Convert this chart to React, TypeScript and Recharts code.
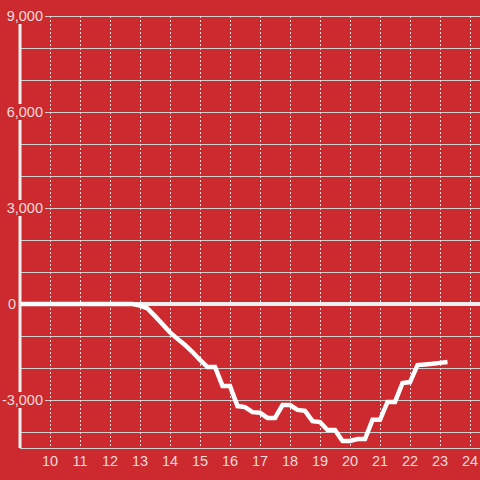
import { LineChart, Line, XAxis, YAxis, CartesianGrid, ReferenceLine } from "recharts";

const hours = [
  9, 9.25, 9.5, 9.75, 10, 10.25, 10.5, 10.75, 11, 11.25, 11.5, 11.75,
  12, 12.25, 12.5, 12.75, 13, 13.25, 13.5, 13.75, 14, 14.25, 14.5, 14.75,
  15, 15.25, 15.5, 15.75, 16, 16.25, 16.5, 16.75, 17, 17.25, 17.5, 17.75,
  18, 18.25, 18.5, 18.75, 19, 19.25, 19.5, 19.75, 20, 20.25, 20.5, 20.75,
  21, 21.25, 21.5, 21.75, 22, 22.25, 22.5, 22.75, 23, 23.25,
];

const values = [
  0, 0, 0, 0, 0, 0, 0, 0, 0, 0, 0, 0,
  0, 0, 0, 0, -50, -140, -380, -630, -890, -1090, -1280, -1500,
  -1750, -1970, -1970, -2560, -2560, -3190, -3220, -3380, -3400, -3560, -3560, -3160,
  -3160, -3310, -3340, -3660, -3690, -3940, -3940, -4280, -4280, -4220, -4220, -3620,
  -3620, -3060, -3060, -2470, -2440, -1910, -1890, -1870, -1840, -1810,
];

const xTicks = [10, 11, 12, 13, 14, 15, 16, 17, 18, 19, 20, 21, 22, 23, 24];
const yTicks = [-4000, -3000, -2000, -1000, 0, 1000, 2000, 3000, 4000, 5000, 6000, 7000, 8000, 9000];
const yLabelStep = 3000;

const data = hours.map((h, i) => ({ h, v: values[i] }));

const BG = "#cc2a2f";
const TEXT = "#f4dcdc";
const FONT = "'Liberation Sans', Arial, sans-serif";
const FS = 14.5;

function fmt(v: number) {
  return v.toLocaleString("en-US");
}

// y labels sit on a red box so they hide the axis / grid behind them
function YTick(props: any) {
  const { y, payload } = props;
  const v = payload.value;
  if (v % yLabelStep !== 0) return <g />;
  const label = fmt(v);
  if (v === 0) {
    return (
      <text x={8} y={y} dy="0.36em" fill={TEXT} fontSize={FS} fontFamily={FONT} textAnchor="start">
        {label}
      </text>
    );
  }
  let w = 0;
  for (const c of label) w += c === "," ? 0.278 : c === "-" ? 0.333 : 0.556;
  w *= FS;
  const right = 43;
  return (
    <g>
      <rect x={right - w - 2} y={y - 8} width={w + 4} height={16} fill={BG} />
      <text x={right} y={y} dy="0.36em" fill={TEXT} fontSize={FS} fontFamily={FONT} textAnchor="end">
        {label}
      </text>
    </g>
  );
}

export default function App() {
  return (
    <div style={{ position: "absolute", left: 0, top: 0, width: 480, height: 480, background: BG }}>
      <LineChart width={480} height={480} data={data} margin={{ top: 16, right: 0, left: 0, bottom: 0 }}>
        <CartesianGrid vertical={false} stroke="#cfcfcf" strokeWidth={1} shapeRendering="crispEdges" />
        <CartesianGrid horizontal={false} stroke="#dcdcdc" strokeDasharray="2 2" strokeWidth={1} shapeRendering="crispEdges" />
        <XAxis
          dataKey="h"
          type="number"
          domain={[9, 24.333]}
          ticks={xTicks}
          allowDataOverflow
          axisLine={false}
          tickLine={false}
          height={32}
          tick={{ fill: TEXT, fontSize: FS, fontFamily: FONT }}
        />
        <YAxis
          type="number"
          domain={[-4500, 9000]}
          ticks={yTicks}
          width={20}
          tickLine={false}
          interval={0}
          axisLine={{ stroke: "#f4f0f0", strokeWidth: 3 }}
          tick={YTick}
          allowDataOverflow
        />
        <ReferenceLine y={0} stroke="#f0eeee" strokeWidth={4} />
        <Line
          dataKey="v"
          type="linear"
          stroke="#ffffff"
          strokeWidth={4.5}
          dot={false}
          isAnimationActive={false}
        />
      </LineChart>
    </div>
  );
}
